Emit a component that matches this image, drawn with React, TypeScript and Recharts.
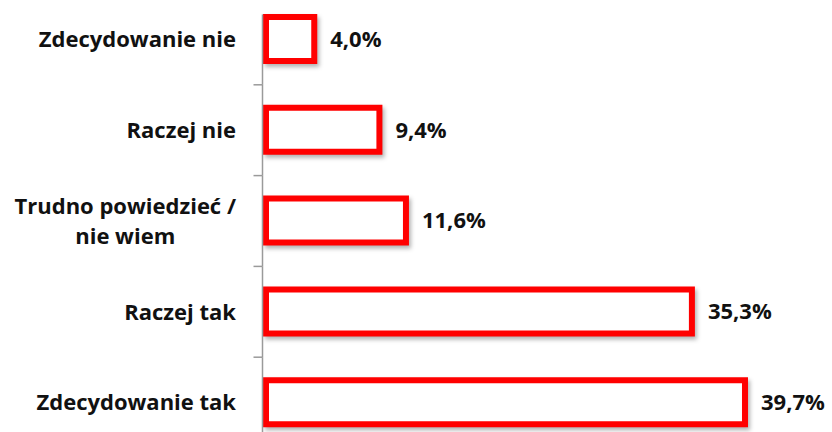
import React from 'react'
import { BarChart, Bar, XAxis, YAxis, LabelList } from 'recharts'

const categories = ['Zdecydowanie nie', 'Raczej nie ', 'Trudno powiedzieć / nie wiem', 'Raczej tak', 'Zdecydowanie tak']
const values = [4.0, 9.4, 11.6, 35.3, 39.7]
const labelLines: string[][] = [['Zdecydowanie nie'], ['Raczej nie '], ['Trudno powiedzieć /', 'nie wiem'], ['Raczej tak'], ['Zdecydowanie tak']]

const data = categories.map((name, i) => ({ name, value: values[i] }))

const FONT = '"Open Sans", Lato, sans-serif'
const FONT_SIZE = 22
const AXIS = '#9a9a9a'

let ctx: CanvasRenderingContext2D | null = null
const measure = (s: string) => {
  if (!ctx) ctx = document.createElement('canvas').getContext('2d')
  if (!ctx) return s.length * 11
  ctx.font = `700 ${FONT_SIZE}px "Open Sans"`
  return ctx.measureText(s).width
}

// label + the axis segment and boundary tick for each category band
const CategoryTick = (props: any) => {
  const { x, y, index, tickMargin = 30 } = props
  const half = props.payload?.offset || 45.4
  const ax = x + tickMargin - 3.5
  const lines = labelLines[index] || [props.payload.value]
  const lh = 30
  const w = Math.max(...lines.map(measure))
  const startY = y - ((lines.length - 1) * lh) / 2
  return (
    <g>
      <line x1={ax} x2={ax} y1={index === 0 ? y - 25 : y - half} y2={y + half} stroke={AXIS} strokeWidth={1.5} />
      {index > 0 && <line x1={ax - 9} x2={ax} y1={y - half} y2={y - half} stroke={AXIS} strokeWidth={1.5} />}
      {lines.map((l: string, i: number) => (
        <text
          key={i}
          x={lines.length > 1 ? x - w / 2 : x}
          y={startY + i * lh}
          dy="0.35em"
          textAnchor={lines.length > 1 ? 'middle' : 'end'}
          fontFamily={FONT}
          fontWeight={700}
          fontSize={FONT_SIZE}
          fill="#111"
        >
          {l}
        </text>
      ))}
    </g>
  )
}

const ValueLabel = (props: any) => {
  const { x, y, width, height, value } = props
  return (
    <text
      x={x + width + 16}
      y={y + height / 2}
      dy="0.35em"
      fontFamily={FONT}
      fontWeight={700}
      fontSize={FONT_SIZE}
      fill="#111"
    >
      {value.toFixed(1).replace('.', ',')}%
    </text>
  )
}

export default function App() {
  return (
    <div style={{ position: 'absolute', left: 0, top: 0, width: 832, height: 432, overflow: 'hidden', background: '#fff' }}>
      <div style={{ marginTop: -6 }}>
        <BarChart width={832} height={460} data={data} layout="vertical" margin={{ top: 0, right: 11, bottom: 6, left: 0 }}>
          <XAxis type="number" domain={[0, 46]} hide />
          <YAxis
            type="category"
            dataKey="name"
            width={266}
            axisLine={false}
            tickLine={false}
            tickSize={0}
            tickMargin={30}
            interval={0}
            tick={<CategoryTick />}
          />
          <Bar
            dataKey="value"
            barSize={44}
            fill="#fff"
            stroke="#ff0000"
            strokeWidth={6}
            isAnimationActive={false}
            style={{ filter: 'drop-shadow(2px 3px 2px rgba(0,0,0,0.3))' }}
          >
            <LabelList dataKey="value" content={<ValueLabel />} />
          </Bar>
        </BarChart>
      </div>
    </div>
  )
}
